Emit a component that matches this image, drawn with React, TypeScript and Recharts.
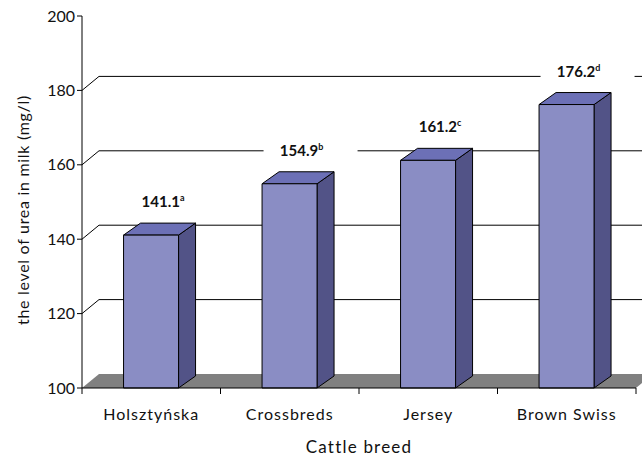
import { BarChart, Bar, XAxis, YAxis, CartesianGrid, LabelList } from "recharts";

const breeds = ["Holsztyńska", "Crossbreds", "Jersey", "Brown Swiss"];
const urea = [141.1, 154.9, 161.2, 176.2];
const letters = ["a", "b", "c", "d"];
const yTicks = [100, 120, 140, 160, 180, 200];

const data = breeds.map((breed, i) => ({ breed, urea: urea[i] }));

const W = 642;
const H = 457;
const TOP = 16;
const X_AXIS_H = 69;
const BOTTOM = H - X_AXIS_H; // y of the x axis
const DX = 17; // wall depth
const DY = 14;
const BAR_DX = 17;
const BAR_DY = 12;
const FONT = "Lato, 'Open Sans', sans-serif";

// back wall gridlines + floor
function WallLine(p: any) {
  const { x1, y1, x2 } = p;
  if (y1 <= TOP + 1) return <g />;
  if (y1 >= BOTTOM - 1) {
    return (
      <polygon
        points={`${x1},${y1} ${x1 + DX},${y1 - DY} ${x2 + DX},${y1 - DY} ${x2},${y1}`}
        fill="#808080"
        stroke="none"
      />
    );
  }
  return (
    <path
      d={`M${x1},${y1} L${x1 + DX},${y1 - DY} H${x2 + DX}`}
      stroke="#000"
      strokeWidth={1}
      fill="none"
    />
  );
}

function Bar3D(p: any) {
  const { x, y, width: w, height: h } = p;
  return (
    <g stroke="#000" strokeWidth={1} strokeLinejoin="round">
      <polygon
        points={`${x + w},${y} ${x + w + BAR_DX},${y - BAR_DY} ${x + w + BAR_DX},${y + h - BAR_DY} ${x + w},${y + h}`}
        fill="#525387"
      />
      <polygon
        points={`${x},${y} ${x + BAR_DX},${y - BAR_DY} ${x + w + BAR_DX},${y - BAR_DY} ${x + w},${y}`}
        fill="#6C70B6"
      />
      <rect x={x} y={y} width={w} height={h} fill="#8A8DC4" />
    </g>
  );
}

function ValueLabel(p: any) {
  const { x, y, width, value, index } = p;
  const cx = x + width / 2 + 12;
  const cy = y - 33;
  return (
    <g>
      <rect x={cx - 38} y={cy - 12} width={94} height={24} fill="#fff" />
      <text
        x={cx}
        y={cy + 5}
        textAnchor="middle"
        fontFamily={FONT}
        fontWeight="bold"
        fontSize={15}
        fill="#111"
      >
        {value}
        <tspan dy={-6} fontSize={9}>
          {letters[index]}
        </tspan>
      </text>
    </g>
  );
}

function BreedTick(p: any) {
  const { x, y, payload, index, visibleTicksCount } = p;
  const half = payload.offset ?? 0;
  const axisY = y - 8;
  return (
    <g>
      <line x1={x - half} y1={axisY} x2={x - half} y2={axisY + 6} stroke="#000" />
      {index === visibleTicksCount - 1 && (
        <line x1={x + half} y1={axisY} x2={x + half} y2={axisY + 6} stroke="#000" />
      )}
      <text
        x={x}
        y={y + 24}
        textAnchor="middle"
        fontFamily={FONT}
        fontSize={16}
        letterSpacing={1}
        fill="#111"
      >
        {payload.value}
      </text>
    </g>
  );
}

function XTitle() {
  return (
    <text
      x={359}
      y={453}
      textAnchor="middle"
      fontFamily={FONT}
      fontSize={17}
      letterSpacing={1.2}
      fill="#111"
    >
      Cattle breed
    </text>
  );
}

function YTitle() {
  return (
    <text
      transform="translate(29,210) rotate(-90)"
      textAnchor="middle"
      fontFamily={FONT}
      fontSize={16}
      letterSpacing={0.7}
      fill="#111"
    >
      the level of urea in milk (mg/l)
    </text>
  );
}

export default function App() {
  return (
    <div style={{ position: "absolute", left: 0, top: 0, width: W, height: H, background: "#fff" }}>
      <BarChart
        width={W}
        height={H}
        data={data}
        margin={{ top: TOP, right: 6, bottom: 0, left: 0 }}
        barCategoryGap="30%"
      >
        <CartesianGrid vertical={false} horizontal={(p: any) => <WallLine {...p} />} />
        <XAxis
          dataKey="breed"
          height={X_AXIS_H}
          axisLine={{ stroke: "#000" }}
          tickLine={false}
          tickSize={6}
          tickMargin={2}
          interval={0}
          tick={<BreedTick />}
          label={<XTitle />}
        />
        <YAxis
          domain={[100, 200]}
          ticks={yTicks}
          interval={0}
          width={82}
          axisLine={{ stroke: "#000" }}
          tickLine={{ stroke: "#000" }}
          tickSize={5}
          tick={{ fill: "#111", fontSize: 16, fontFamily: FONT }}
          label={<YTitle />}
        />
        <Bar dataKey="urea" shape={<Bar3D />} isAnimationActive={false}>
          <LabelList dataKey="urea" content={<ValueLabel />} />
        </Bar>
      </BarChart>
    </div>
  );
}
